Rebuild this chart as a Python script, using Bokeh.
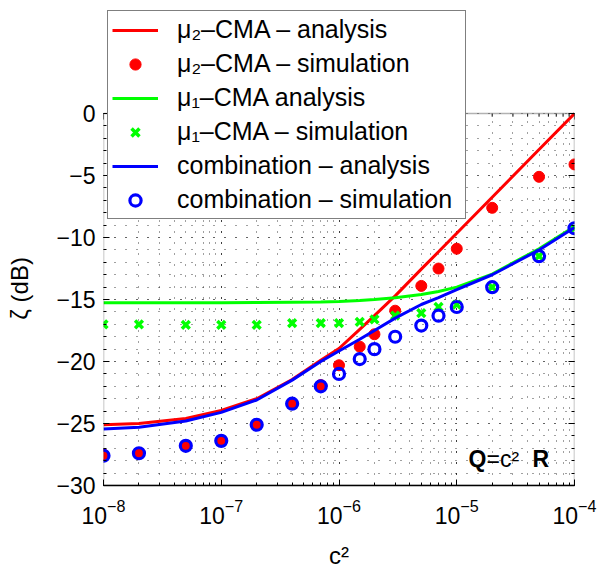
from bokeh.plotting import figure
from bokeh.models import (Legend, LegendItem, LinearAxis, LogTicker, FixedTicker,
                          CustomJSTickFormatter, Label, BoxAnnotation)
from bokeh.embed import file_html
from bokeh.resources import INLINE

# ---- data ----
c2 = [1e-8, 2e-8, 5e-8, 1e-7, 2e-7, 4e-7, 7e-7, 1e-6, 1.5e-6, 2e-6, 3e-6,
      5e-6, 7e-6, 1e-5, 2e-5, 5e-5, 1e-4]
mu2_analysis = [-25.1, -25.0, -24.6, -23.95, -23.0, -21.45, -19.9, -18.95, -17.4,
                -16.3, -14.7, -12.55, -11.15, -9.65, -6.75, -2.9, 0.0]
mu2_sim = [-27.5, -27.4, -26.8, -26.4, -25.1, -23.4, -21.9, -20.3, -18.8, -17.8,
           -15.9, -13.9, -12.5, -10.9, -7.6, -5.1, -4.1]
mu1_analysis = [-15.25, -15.25, -15.25, -15.25, -15.24, -15.22, -15.2, -15.15,
                -15.08, -15.0, -14.85, -14.6, -14.35, -14.0, -12.95, -10.9, -9.1]
mu1_sim = [-17.0, -17.0, -17.05, -17.05, -17.05, -16.9, -16.9, -16.9, -16.8,
           -16.6, -16.3, -16.1, -15.6, -15.4, -14.0, -11.5, -9.25]
comb_analysis = [-25.45, -25.3, -24.8, -24.1, -23.1, -21.5, -20.0, -19.15, -18.2,
                 -17.5, -16.5, -15.4, -14.85, -14.2, -13.0, -11.0, -9.2]
comb_sim = [-27.6, -27.4, -26.8, -26.4, -25.1, -23.4, -22.0, -21.0, -19.8, -19.0,
            -18.0, -17.1, -16.3, -15.6, -14.0, -11.5, -9.25]

labels = ["μ₂–CMA – analysis", "μ₂–CMA – simulation", "μ₁–CMA analysis",
          "μ₁–CMA – simulation", "combination – analysis", "combination – simulation"]

# axes limits and ticks
X_MIN, X_MAX = 1e-8, 1e-4
Y_MIN, Y_MAX = -30, 0
Y_VIEW_TOP = 8.8          # extra room above the axes box for the legend
y_major = [-30, -25, -20, -15, -10, -5, 0]
y_minor = list(range(-30, 1))
x_major = [1e-8, 1e-7, 1e-6, 1e-5, 1e-4]
x_minor = [m * d for d in x_major[:-1] for m in range(2, 10)]

FONT = "Liberation Sans"
RED, GREEN, BLUE = "#ff0000", "#00ff00", "#0000ff"

p = figure(width=599, height=572, x_axis_type="log", x_range=(X_MIN, X_MAX),
           y_range=(Y_MIN, Y_VIEW_TOP), output_backend="svg", toolbar_location=None,
           min_border_left=103, min_border_right=25, min_border_top=4,
           min_border_bottom=87)
p.background_fill_color = "white"
p.border_fill_color = "white"
p.outline_line_color = None

# grids (dotted, major + minor)
xt = LogTicker(num_minor_ticks=10)
yt = FixedTicker(ticks=y_major, minor_ticks=y_minor)
for g in (p.xgrid[0], p.ygrid[0]):
    g.grid_line_color = "black"
    g.grid_line_alpha = 0.75
    g.grid_line_width = 1
    g.grid_line_dash = "1 10"
    g.minor_grid_line_color = "black"
    g.minor_grid_line_alpha = 0.75
    g.minor_grid_line_width = 1
    g.minor_grid_line_dash = "1 10"
p.xgrid[0].ticker = xt
p.ygrid[0].ticker = yt

# white mask above the axes box (hides grid there)
p.add_layout(BoxAnnotation(bottom=Y_MAX, fill_color="white", fill_alpha=1.0,
                           line_color=None, level="underlay"))

r1 = p.line(c2, mu2_analysis, line_color=RED, line_width=3)
r2 = p.scatter(c2, mu2_sim, marker="circle", size=11, fill_color=RED, line_color=RED)
r3 = p.line(c2, mu1_analysis, line_color=GREEN, line_width=3)
r4 = p.scatter(c2, mu1_sim, marker="x", size=11, line_color=GREEN, line_width=3.5)
r5 = p.line(c2, comb_analysis, line_color=BLUE, line_width=3)
r6 = p.scatter(c2, comb_sim, marker="circle", size=11, fill_color=None,
               line_color=BLUE, line_width=3.2)

# top-side inward ticks along the box top
p.segment(x0=x_major, x1=x_major, y0=[Y_MAX] * len(x_major),
          y1=[Y_MAX - 0.48] * len(x_major), line_color="black", line_width=1)
p.segment(x0=x_minor, x1=x_minor, y0=[Y_MAX] * len(x_minor),
          y1=[Y_MAX - 0.25] * len(x_minor), line_color="black", line_width=1)

yfmt = CustomJSTickFormatter(code="return tick < 0 ? '\\u2212' + Math.abs(tick) : String(tick);")


def style_axis(ax, show_labels=True):
    ax.axis_line_color = "black"
    ax.axis_line_width = 1.5
    ax.major_tick_in = 6
    ax.major_tick_out = 0
    ax.minor_tick_in = 3
    ax.minor_tick_out = 0
    ax.major_tick_line_color = "black"
    ax.minor_tick_line_color = "black"
    ax.major_label_text_font = FONT
    ax.major_label_text_font_size = "23px"
    ax.major_label_text_color = "black"
    ax.axis_label_text_font = FONT
    ax.axis_label_text_font_size = "24px"
    ax.axis_label_text_font_style = "normal"
    ax.axis_label_text_color = "black"
    if not show_labels:
        ax.major_label_text_font_size = "0px"
        ax.major_label_text_alpha = 0


xa = p.xaxis[0]
ya = p.yaxis[0]
xa.ticker = xt
ya.ticker = yt
ya.formatter = yfmt
style_axis(xa)
style_axis(ya)
ya.axis_line_color = None
xa.axis_label = "c²"
# trailing no-break spaces keep the rotated label centred on the axes box
ya.axis_label = "ζ (dB)" + "\u00a0" * 13
xa.major_label_standoff = 13
xa.axis_label_standoff = 15
ya.major_label_standoff = 8
ya.axis_label_standoff = 20

right = LinearAxis(ticker=FixedTicker(ticks=y_major, minor_ticks=y_minor))
style_axis(right, show_labels=False)
right.axis_line_color = None
p.add_layout(right, "right")

# axes box
p.add_layout(BoxAnnotation(left=X_MIN, right=X_MAX, bottom=Y_MIN, top=Y_MAX,
                           fill_alpha=0, line_color="black", line_width=1.5))

# legend
items = [LegendItem(label=l, renderers=[r]) for l, r in
         zip(labels, [r1, r2, r3, r4, r5, r6])]
leg = Legend(items=items, location=(4, 266), orientation="vertical")
leg.label_text_font = FONT
leg.label_text_font_size = "25px"
leg.label_text_color = "black"
leg.border_line_color = "black"
leg.border_line_width = 1.5
leg.background_fill_color = "white"
leg.background_fill_alpha = 1.0
leg.padding = 4
leg.spacing = 5
leg.glyph_width = 46
leg.glyph_height = 28
leg.label_height = 28
leg.label_standoff = 19
leg.label_width = 284
leg.margin = 0
p.add_layout(leg, "center")

# annotation Q = c^2 R
p.add_layout(Label(x=365, y=14, x_units="screen", y_units="screen", text="Q",
                   text_font=FONT, text_font_size="23px", text_font_style="bold",
                   text_color="black"))
p.add_layout(Label(x=383, y=14, x_units="screen", y_units="screen", text="=c²",
                   text_font=FONT, text_font_size="23px", text_color="black"))
p.add_layout(Label(x=429, y=14, x_units="screen", y_units="screen", text="R",
                   text_font=FONT, text_font_size="23px", text_font_style="bold",
                   text_color="black"))

open("out.html", "w").write(file_html(p, INLINE))
